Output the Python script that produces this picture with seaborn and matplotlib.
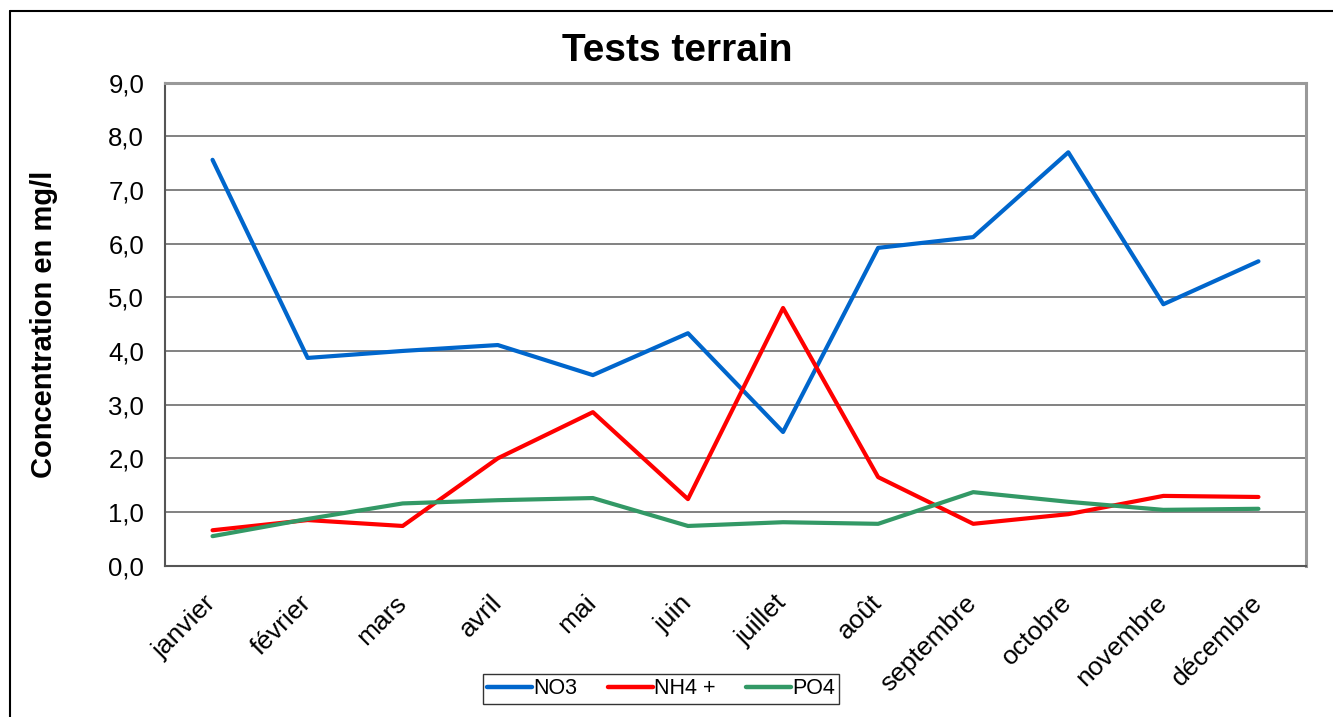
import pandas as pd
import matplotlib.pyplot as plt
import seaborn as sns
from matplotlib.ticker import FixedLocator, FuncFormatter
from matplotlib.lines import Line2D

mois = ["janvier", "février", "mars", "avril", "mai", "juin", "juillet",
        "août", "septembre", "octobre", "novembre", "décembre"]
no3 = [7.56, 3.87, 4.00, 4.11, 3.55, 4.33, 2.49, 5.92, 6.12, 7.70, 4.87, 5.67]
nh4 = [0.66, 0.85, 0.74, 2.00, 2.86, 1.24, 4.80, 1.65, 0.78, 0.96, 1.30, 1.28]
po4 = [0.55, 0.87, 1.16, 1.22, 1.26, 0.74, 0.81, 0.78, 1.37, 1.19, 1.04, 1.06]
series = ["NO3", "NH4 +", "PO4"]
couleurs = ["#0066CC", "#FF0000", "#339966"]

df = pd.DataFrame({"mois": mois, "NO3": no3, "NH4 +": nh4, "PO4": po4})
long = df.melt(id_vars="mois", var_name="serie", value_name="valeur")
long["pos"] = long["mois"].map({m: i for i, m in enumerate(mois)})

sns.set_style("white")
plt.rcParams["font.family"] = ["Liberation Sans", "DejaVu Sans"]
plt.rcParams["text.color"] = "black"
plt.rcParams["axes.labelcolor"] = "black"
plt.rcParams["xtick.labelcolor"] = "black"
plt.rcParams["ytick.labelcolor"] = "black"

fig = plt.figure(figsize=(13.33, 7.17), dpi=100)
ax = fig.add_axes([165 / 1333, 1 - 565.7 / 717, (1306 - 165) / 1333, (565.7 - 82.5) / 717])

sns.lineplot(data=long, x="pos", y="valeur", hue="serie", hue_order=series,
             palette=couleurs, linewidth=3, ax=ax, legend=False, sort=False)

ax.set_xlim(-0.5, len(mois) - 0.5)
ax.set_ylim(0, 9)
ax.set_yticks(range(0, 10))
ax.yaxis.set_major_formatter(FuncFormatter(lambda v, p: f"{v:.1f}".replace(".", ",")))
ax.grid(axis="y", color="#777777", linewidth=1.3)
ax.set_axisbelow(True)

# ticks between categories, labels at category centres
ax.xaxis.set_major_locator(FixedLocator([i - 0.5 for i in range(len(mois) + 1)]))
ax.xaxis.set_minor_locator(FixedLocator(range(len(mois))))
ax.set_xticklabels([], minor=False)
ax.set_xticklabels(mois, minor=True, rotation=45, ha="right", va="center",
                   rotation_mode="anchor", fontsize=19)
ax.tick_params(axis="x", which="minor", length=0, pad=24)
ax.tick_params(axis="x", which="major", length=8, width=1.3, color="#555555", direction="out")
ax.tick_params(axis="y", length=8, width=1.3, color="#555555", direction="out", labelsize=18.5, pad=7)
ax.set_xlabel("")
ax.set_ylabel("Concentration en mg/l", fontsize=21, fontweight="bold", labelpad=36)

for side in ["left", "bottom"]:
    ax.spines[side].set_color("#555555")
    ax.spines[side].set_linewidth(1.5)
for side in ["top", "right"]:
    ax.spines[side].set_color("#999999")
    ax.spines[side].set_linewidth(2.2)

fig.text(677 / 1333, 1 - 51 / 717, "Tests terrain", fontsize=28, fontweight="bold",
         ha="center", va="center")

handles = [Line2D([0], [0], color=c, linewidth=3.2) for c in couleurs]
leg = fig.legend(handles, series, loc="center", bbox_to_anchor=(661 / 1333, 1 - 689 / 717),
                 ncol=3, fontsize=15.5, frameon=True, fancybox=False, edgecolor="black",
                 handlelength=2.1, handletextpad=0.05, columnspacing=1.4,
                 borderpad=0.2, borderaxespad=0)
leg.get_frame().set_linewidth(1.0)

# outer chart border (left and top visible)
fig.add_artist(Line2D([10 / 1333, 10 / 1333], [0, 1 - 11 / 717], color="black", linewidth=1.5))
fig.add_artist(Line2D([10 / 1333, 1], [1 - 11 / 717, 1 - 11 / 717], color="black", linewidth=1.5))

fig.savefig("out.png", dpi=100)
